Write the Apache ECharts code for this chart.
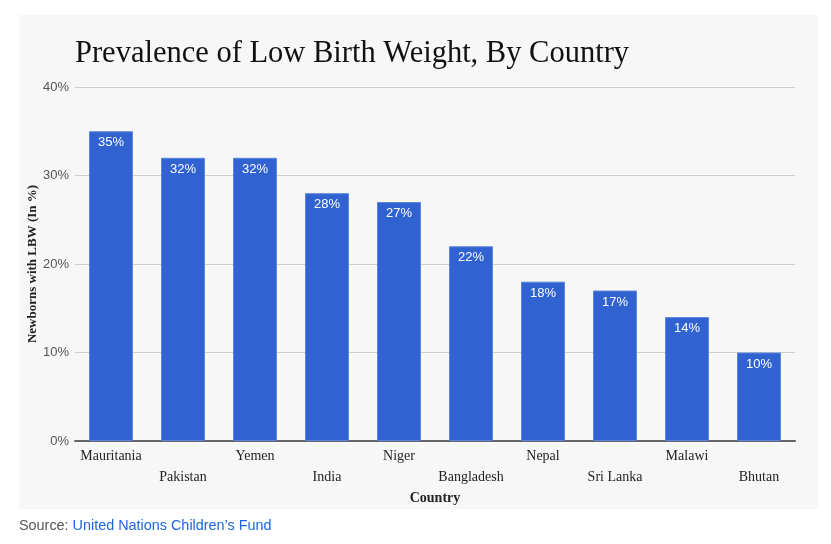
<!DOCTYPE html>
<html><head><meta charset="utf-8">
<script src="https://cdn.jsdelivr.net/npm/echarts@6/dist/echarts.min.js"></script>
<style>html,body{margin:0;padding:0;background:#fff;}#c{width:831px;height:544px;}</style>
</head><body><div id="c"></div>
<script>
const categories = ['Mauritania','Pakistan','Yemen','India','Niger','Bangladesh','Nepal','Sri Lanka','Malawi','Bhutan'];
const values = [35,32,32,28,27,22,18,17,14,10];
const yTicks = {min:0, max:40, interval:10};
const chart = echarts.init(document.getElementById('c'));
chart.setOption({
  animation:false,
  backgroundColor:'#ffffff',
  graphic:[{type:'rect',left:19,top:15,shape:{width:799,height:494},style:{fill:'#f7f7f7'},z:-10}],
  title:[
    {text:'Prevalence of Low Birth Weight, By Country',left:70,top:33,
     textStyle:{fontFamily:'Liberation Serif, serif',fontSize:30.5,fontWeight:'normal',color:'#111'}},
    {text:'{a|Source: }{b|United Nations Children\u2019s Fund}',left:14,top:514,
     textStyle:{fontWeight:'normal',rich:{a:{fontFamily:'Liberation Sans, Arial, sans-serif',fontSize:14.4,fontWeight:'normal',color:'#555'},
                      b:{fontFamily:'Liberation Sans, Arial, sans-serif',fontSize:14.4,fontWeight:'normal',color:'#1a66e0'}}}}
  ],
  grid:{left:75,right:36,top:87,bottom:103},
  xAxis:{type:'category',data:categories,
    axisLine:{lineStyle:{color:'#666',width:2}},axisTick:{show:false},
    axisLabel:{interval:0,margin:5,color:'#222',fontFamily:'Liberation Serif, serif',fontSize:14,lineHeight:21,
      formatter:(v,i)=> i%2 ? '\n'+v : v},
    name:'Country',nameLocation:'middle',nameGap:50,nameMoveOverlap:false,
    nameTextStyle:{fontFamily:'Liberation Serif, serif',fontWeight:'bold',fontSize:14,color:'#222'}},
  yAxis:{type:'value',min:yTicks.min,max:yTicks.max,interval:yTicks.interval,
    axisLine:{show:false},axisTick:{show:false},
    splitLine:{lineStyle:{color:'#cccccc',width:1}},
    axisLabel:{formatter:'{value}%',color:'#555',fontFamily:'Liberation Sans, Arial, sans-serif',fontSize:13,margin:6},
    name:'Newborns with LBW (In %)',nameLocation:'middle',nameGap:36,nameRotate:90,nameMoveOverlap:false,
    nameTextStyle:{fontFamily:'Liberation Serif, serif',fontWeight:'bold',fontSize:13,color:'#222'}},
  series:[{type:'bar',data:values,barCategoryGap:'39%',
    itemStyle:{color:'#3063cf',borderColor:'#5b84de',borderWidth:1},
    label:{show:true,position:'insideTop',distance:5,formatter:'{c}%',color:'#fff',
      fontFamily:'Liberation Sans, Arial, sans-serif',fontSize:13}}]
});
</script></body></html>
